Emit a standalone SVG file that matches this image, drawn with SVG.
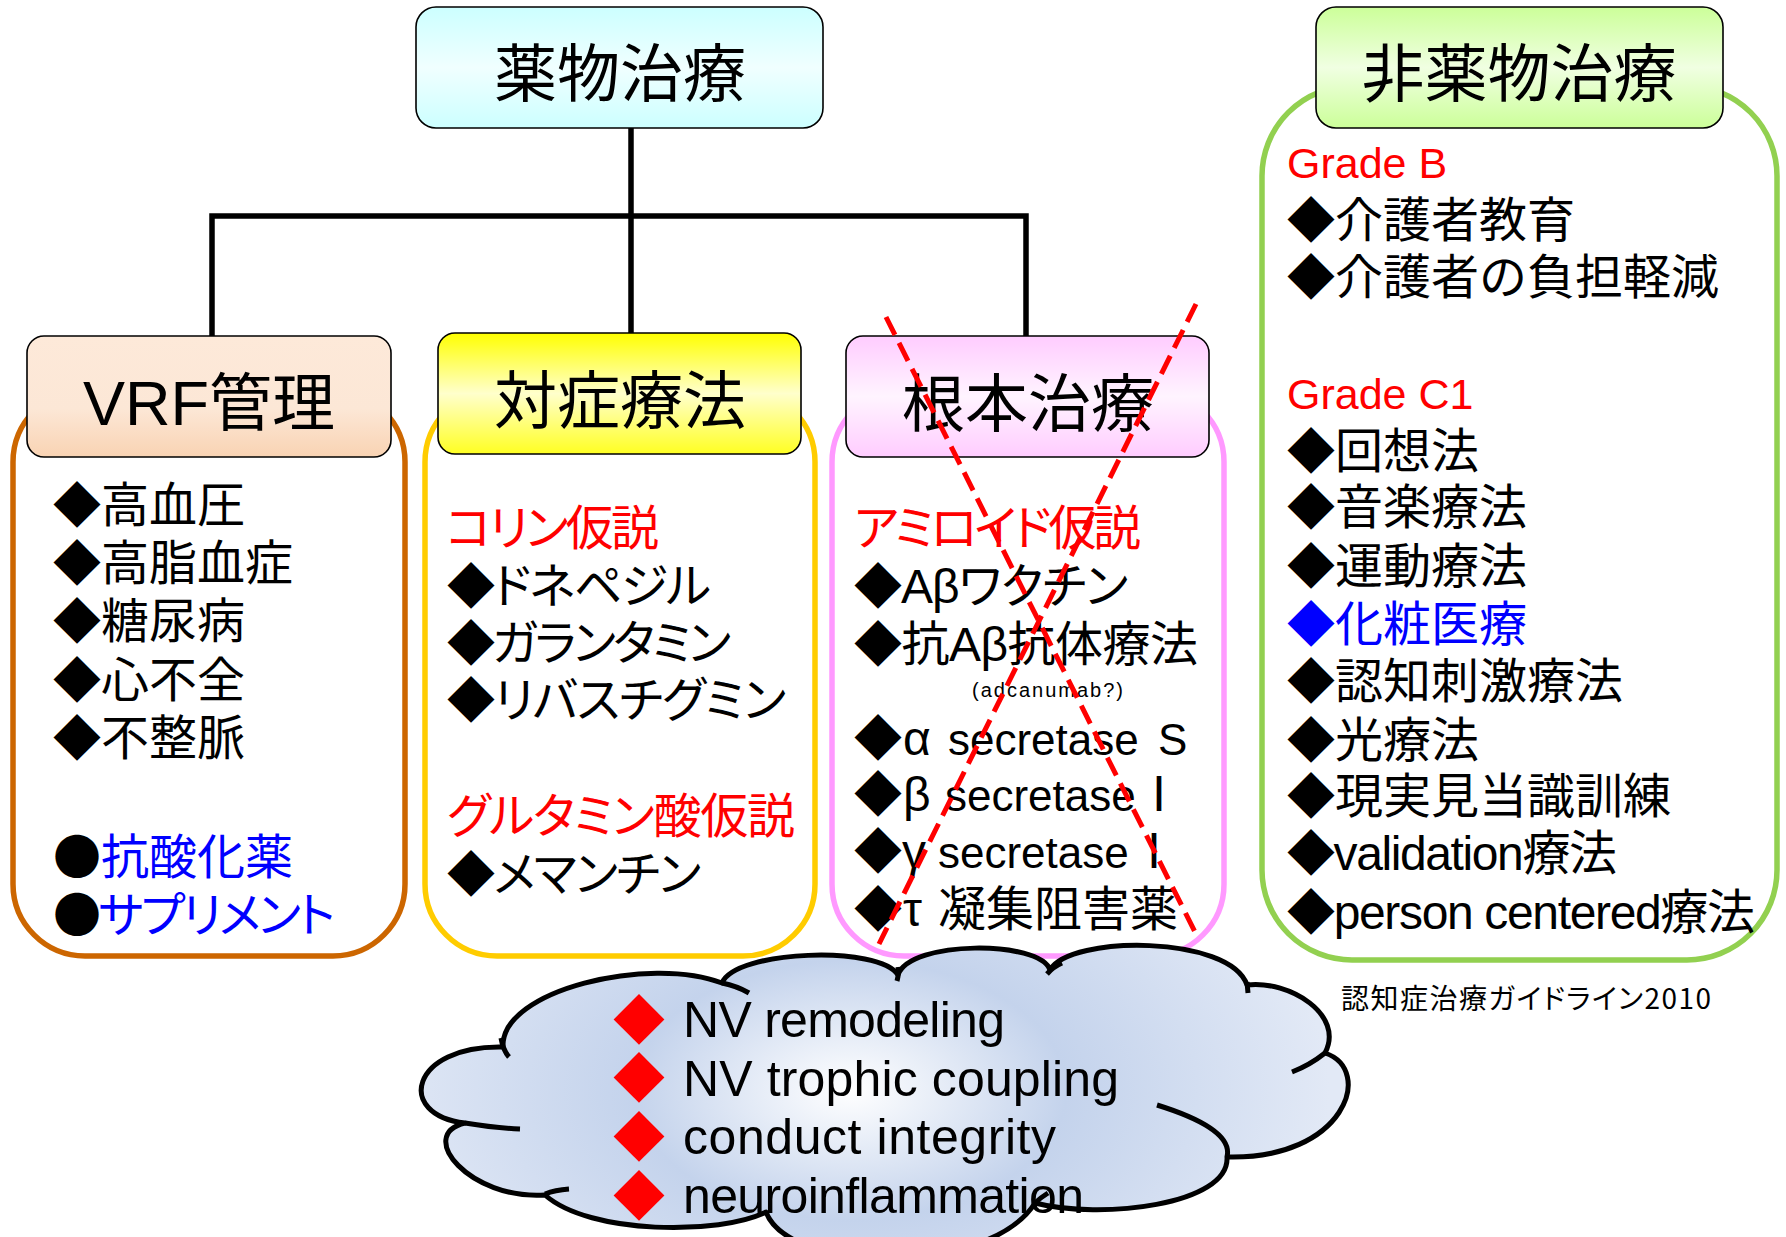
<svg xmlns="http://www.w3.org/2000/svg" width="1786" height="1237" viewBox="0 0 1786 1237">
<defs>
<linearGradient id="gCyan" x1="0" y1="0" x2="0" y2="1"><stop offset="0" stop-color="#ccffff"/><stop offset="0.5" stop-color="#f0ffff"/><stop offset="1" stop-color="#ccffff"/></linearGradient>
<linearGradient id="gGreen" x1="0" y1="0" x2="0" y2="1"><stop offset="0" stop-color="#ccff99"/><stop offset="0.5" stop-color="#f0ffe2"/><stop offset="1" stop-color="#ccff99"/></linearGradient>
<linearGradient id="gPeach" x1="0" y1="0" x2="0" y2="1"><stop offset="0" stop-color="#fde9d9"/><stop offset="0.6" stop-color="#fce7d6"/><stop offset="1" stop-color="#f9d3b3"/></linearGradient>
<linearGradient id="gYellow" x1="0" y1="0" x2="0" y2="1"><stop offset="0" stop-color="#ffff00"/><stop offset="0.5" stop-color="#ffffcc"/><stop offset="1" stop-color="#ffff22"/></linearGradient>
<linearGradient id="gPink" x1="0" y1="0" x2="0" y2="1"><stop offset="0" stop-color="#ffccff"/><stop offset="0.5" stop-color="#fff4ff"/><stop offset="1" stop-color="#ffccff"/></linearGradient>
<radialGradient id="gCloud" gradientUnits="userSpaceOnUse" cx="850" cy="1090" r="480" gradientTransform="translate(850 1090) scale(1 0.6) translate(-850 -1090)"><stop offset="0" stop-color="#ffffff"/><stop offset="0.45" stop-color="#c4d3ec"/><stop offset="1" stop-color="#e2e9f6"/></radialGradient>
<style>
.box{stroke:#000;stroke-width:1.6}
.cont{fill:#fff;stroke-width:5.5}
.conn{stroke:#000;stroke-width:5.5;fill:none;stroke-linecap:square}
.lt{font-family:"Liberation Sans","Noto Sans CJK JP",sans-serif}
.cj{font-family:"Noto Sans CJK JP",sans-serif}
.pa{font-feature-settings:"palt"}
.hd{font-size:63px;text-anchor:middle;fill:#000}
.it{font-size:48px;fill:#000}
.s44{font-size:44px}
.red{fill:#ff0000}
.blue{fill:#0000ff}
.xl{stroke:#ff0000;stroke-width:5;stroke-dasharray:20 9;fill:none}
.cl{stroke:#000;stroke-width:5;fill:none;stroke-linecap:butt}
</style>
</defs>
<rect width="1786" height="1237" fill="#fff"/>

<g id="connectors">
<line class="conn" x1="631" y1="127" x2="631" y2="333"/>
<polyline class="conn" points="212,336 212,216 1026,216 1026,336"/>
</g>

<g id="vrf">
<rect class="cont" x="13" y="390" width="392" height="566" rx="72" stroke="#cc6600"/>
<rect class="box" x="27" y="336" width="364" height="121" rx="17" fill="url(#gPeach)"/>
<text class="lt hd" x="209" y="425" font-size="62">VRF管理</text>
<text class="cj it" x="53" y="522">◆高血圧</text>
<text class="cj it" x="53" y="580">◆高脂血症</text>
<text class="cj it" x="53" y="638">◆糖尿病</text>
<text class="cj it" x="53" y="697">◆心不全</text>
<text class="cj it" x="53" y="755">◆不整脈</text>
<text class="cj it blue" x="53" y="874"><tspan fill="#000">●</tspan>抗酸化薬</text>
<text class="cj pa it blue" x="53" y="932" textLength="282"><tspan fill="#000">●</tspan>サプリメント</text>
</g>

<g id="symptomatic">
<rect class="cont" x="425" y="390" width="390" height="566" rx="72" stroke="#ffcc00"/>
<rect class="box" x="438" y="333" width="363" height="121" rx="17" fill="url(#gYellow)"/>
<text class="lt hd" x="620" y="423">対症療法</text>
<text class="cj pa it red" x="446" y="545" textLength="213">コリン仮説</text>
<text class="cj pa it" x="447" y="603" textLength="264">◆ドネペジル</text>
<text class="cj pa it" x="447" y="660" textLength="284">◆ガランタミン</text>
<text class="cj pa it" x="447" y="717" textLength="339">◆リバスチグミン</text>
<text class="cj pa it red" x="447" y="833" textLength="348">グルタミン酸仮説</text>
<text class="cj pa it" x="447" y="891" textLength="254">◆メマンチン</text>
</g>

<g id="causal">
<rect class="cont" x="832" y="390" width="392" height="566" rx="72" stroke="#ff99ff"/>
<rect class="box" x="846" y="336" width="363" height="121" rx="17" fill="url(#gPink)"/>
<text class="lt hd" x="1028" y="426">根本治療</text>
<text class="cj pa it red" x="854" y="545" textLength="287">アミロイド仮説</text>
<text class="lt pa it" x="854" y="603" textLength="274">◆Aβワクチン</text>
<text class="lt it" x="854" y="661" textLength="344">◆抗Aβ抗体療法</text>
<text class="lt" x="972" y="697" font-size="20" textLength="151">(adcanumab?)</text>
<text class="lt it" x="854" y="755">◆<tspan x="903">α</tspan><tspan x="948" class="s44">secretase</tspan><tspan x="1158" class="s44">S</tspan></text>
<text class="lt it" x="854" y="811">◆<tspan x="903">β</tspan><tspan x="945" class="s44">secretase</tspan><tspan x="1135">Ⅰ</tspan></text>
<text class="lt it" x="854" y="868">◆<tspan x="902">γ</tspan><tspan x="938" class="s44">secretase</tspan><tspan x="1130">Ⅰ</tspan></text>
<text class="lt it" x="854" y="926">◆<tspan x="903">τ</tspan><tspan x="938">凝集阻害薬</tspan></text>
<line class="xl" x1="886" y1="317" x2="1195" y2="932"/>
<line class="xl" x1="1196" y1="304" x2="879" y2="944"/>
</g>

<g id="drug-therapy">
<rect class="box" x="416" y="7" width="407" height="121" rx="20" fill="url(#gCyan)"/>
<text class="lt hd" x="620" y="96">薬物治療</text>
</g>

<g id="non-drug">
<rect class="cont" x="1262" y="86" width="515" height="874" rx="90" stroke="#92d050"/>
<rect class="box" x="1316" y="7" width="407" height="121" rx="20" fill="url(#gGreen)"/>
<text class="lt hd" x="1519" y="96">非薬物治療</text>
<text class="lt red" x="1287" y="178" font-size="43">Grade B</text>
<text class="cj it" x="1287" y="237">◆介護者教育</text>
<text class="cj it" x="1287" y="294">◆介護者の負担軽減</text>
<text class="lt red" x="1287" y="409" font-size="43">Grade C1</text>
<text class="cj it" x="1287" y="468">◆回想法</text>
<text class="cj it" x="1287" y="524">◆音楽療法</text>
<text class="cj it" x="1287" y="583">◆運動療法</text>
<text class="cj it blue" x="1287" y="641">◆化粧医療</text>
<text class="cj it" x="1287" y="698">◆認知刺激療法</text>
<text class="cj it" x="1287" y="757">◆光療法</text>
<text class="cj it" x="1287" y="813">◆現実見当識訓練</text>
<text class="lt it" x="1287" y="870" textLength="330">◆validation療法</text>
<text class="lt it" x="1287" y="929" textLength="468">◆person centered療法</text>
</g>

<g id="source">
<text class="cj pa" x="1341" y="1009" font-size="28" textLength="370">認知症治療ガイドライン2010</text>
</g>

<g id="cloud">
<path d="M503,1047 C500,990 650,955 722,983 C735,950 880,945 898,975 C910,940 1040,940 1050,970 C1070,935 1230,935 1247,985 C1290,980 1345,1015 1325,1053 C1375,1070 1345,1160 1227,1157 C1230,1205 1100,1220 1035,1203 C990,1275 790,1275 766,1212 C720,1235 590,1235 545,1195 C470,1200 415,1135 465,1123 C395,1115 410,1045 503,1047 Z" fill="url(#gCloud)" stroke="#000" stroke-width="5" stroke-linejoin="round"/>
<path class="cl" d="M501,1038 Q503,1050 509,1057 M465,1123 Q495,1128 520,1129 M545,1194 Q555,1190 569,1189 M722,983 Q737,986 749,993 M898,967 Q899,974 897,981 M1062,963 Q1053,967 1047,974 M1247,982 L1248,993 M1325,1053 Q1310,1065 1292,1072 M1157,1105 Q1234,1129 1227,1157 M1035,1203 Q1040,1198 1048,1193"/>
<text class="cj" x="613" y="1039" font-size="52" fill="#ff0000">◆</text>
<text class="cj" x="613" y="1097" font-size="52" fill="#ff0000">◆</text>
<text class="cj" x="613" y="1156" font-size="52" fill="#ff0000">◆</text>
<text class="cj" x="613" y="1215" font-size="52" fill="#ff0000">◆</text>
<text class="lt" x="683" y="1037" font-size="50" textLength="322">NV remodeling</text>
<text class="lt" x="683" y="1096" font-size="50" textLength="436">NV trophic coupling</text>
<text class="lt" x="683" y="1154" font-size="50" textLength="373">conduct integrity</text>
<text class="lt" x="683" y="1213" font-size="50" textLength="401">neuroinflammation</text>
</g>
</svg>
